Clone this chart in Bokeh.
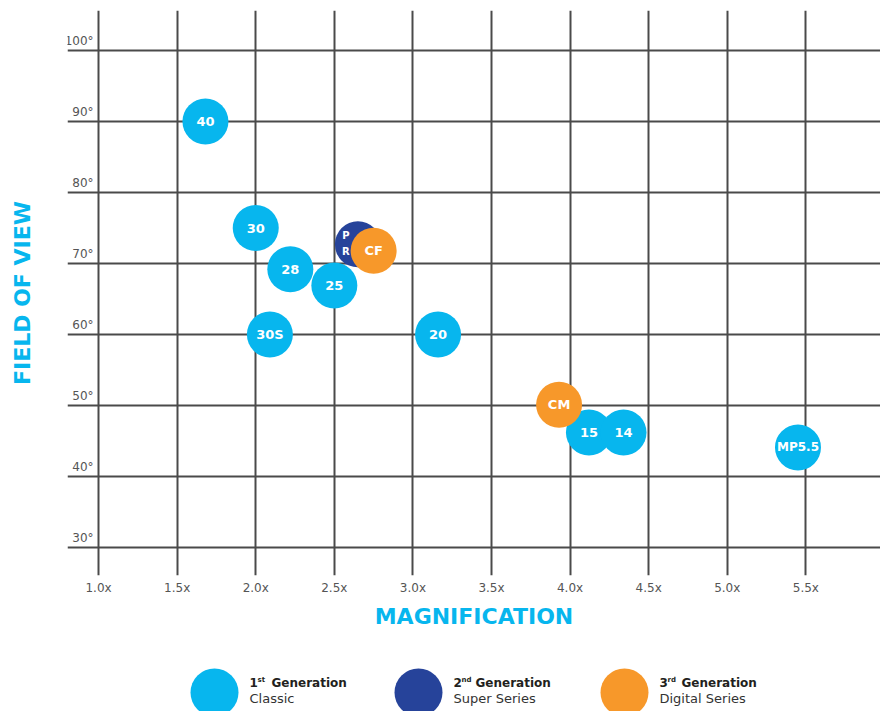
from bokeh.plotting import figure
from bokeh.models import ColumnDataSource, FixedTicker, Range1d, LabelSet
from bokeh.layouts import column
from bokeh.embed import file_html
from bokeh.resources import INLINE
from bokeh.core.properties import value

# ---------------- data ----------------
labels = ["40", "30", "28", "25", "30S", "20", "15", "14", "MP5.5", "PR", "CF", "CM"]
magnification = [1.68, 2.0, 2.22, 2.5, 2.09, 3.16, 4.12, 4.34, 5.45, 2.65, 2.75, 3.93]
field_of_view = [90, 75, 69.2, 66.9, 60, 60, 46.2, 46.2, 44.1, 72.7, 71.8, 50.1]
generation = [1, 1, 1, 1, 1, 1, 1, 1, 1, 2, 3, 3]

x_ticks = [1.0, 1.5, 2.0, 2.5, 3.0, 3.5, 4.0, 4.5, 5.0, 5.5]
x_tick_labels = ["1.0x", "1.5x", "2.0x", "2.5x", "3.0x", "3.5x", "4.0x", "4.5x", "5.0x", "5.5x"]
y_ticks = [30, 40, 50, 60, 70, 80, 90, 100]
y_tick_labels = ["30°", "40°", "50°", "60°", "70°", "80°", "90°", "100°"]

gen_numbers = ["1", "2", "3"]
gen_suffixes = ["st", "nd", "rd"]
gen_names = ["Generation", "Generation", "Generation"]
gen_series = ["Classic", "Super Series", "Digital Series"]

# ---------------- style ----------------
CYAN = "#07b6ee"
NAVY = "#26439a"
ORANGE = "#f7982a"
GEN_COLORS = {1: CYAN, 2: NAVY, 3: ORANGE}
GRID = "#4a4a4a"
TICK_TXT = "#555555"
FONT = "DejaVu Sans"

colors = [GEN_COLORS[g] for g in generation]
disp = ["P\nR" if l == "PR" else l for l in labels]
fsize = ["10px" if l == "PR" else ("12px" if len(l) > 3 else "13px") for l in labels]
xoff = [-12 if l == "PR" else 0 for l in labels]
yoff = [-1 if l == "PR" else 0 for l in labels]

src = ColumnDataSource(dict(x=magnification, y=field_of_view, label=disp,
                            color=colors, gen=generation, fs=fsize, xo=xoff, yo=yoff))

p = figure(width=880, height=643, output_backend="svg", toolbar_location=None,
           x_range=Range1d(0.8023, 5.975), y_range=Range1d(26.06, 105.64),
           min_border_left=67, min_border_right=0, min_border_top=10,
           min_border_bottom=68)
p.outline_line_color = None
p.background_fill_color = "white"

# grid
p.xgrid.ticker = FixedTicker(ticks=x_ticks)
p.ygrid.ticker = FixedTicker(ticks=y_ticks)
for g in (p.xgrid, p.ygrid):
    g.grid_line_color = GRID
    g.grid_line_width = 2
    g.grid_line_alpha = 1

# x axis
xa = p.xaxis[0]
xa.ticker = FixedTicker(ticks=x_ticks)
xa.major_label_overrides = {t: l for t, l in zip(x_ticks, x_tick_labels)}
xa.axis_line_color = None
xa.major_tick_line_color = None
xa.major_tick_out = 0
xa.major_tick_in = 0
xa.minor_tick_line_color = None
xa.major_label_standoff = 5
xa.major_label_text_font = FONT
xa.major_label_text_font_size = "12px"
xa.major_label_text_color = TICK_TXT
xa.axis_label = "MAGNIFICATION"
xa.axis_label_text_font = FONT
xa.axis_label_text_font_style = "bold"
xa.axis_label_text_font_size = "22px"
xa.axis_label_text_color = CYAN
xa.axis_label_standoff = 6

# y axis (title only; tick labels drawn inside)
ya = p.yaxis[0]
ya.ticker = FixedTicker(ticks=[])
ya.axis_line_color = None
ya.major_tick_line_color = None
ya.major_tick_out = 0
ya.minor_tick_line_color = None
ya.axis_label = "FIELD OF VIEW"
ya.axis_label_text_font = FONT
ya.axis_label_text_font_style = "bold"
ya.axis_label_text_font_size = "22px"
ya.axis_label_text_color = CYAN
ya.axis_label_standoff = 33

# y tick labels sitting above the lines, left of first vertical line
ysrc = ColumnDataSource(dict(x=[x_ticks[0]] * len(y_ticks), y=y_ticks, t=y_tick_labels))
p.add_layout(LabelSet(x="x", y="y", text="t", source=ysrc, x_offset=-5, y_offset=6,
                      text_align="right", text_baseline="alphabetic",
                      text_font=value(FONT), text_font_size="12px",
                      text_color=TICK_TXT))

# bubbles
p.scatter("x", "y", source=src, size=46, fill_color="color", line_color=None)
p.text("x", "y", text="label", source=src, x_offset="xo", y_offset="yo",
       text_align="center", text_baseline="middle", text_font=value(FONT),
       text_font_style="bold", text_font_size="fs", text_color="white",
       text_line_height=1.45)

# ---------------- legend figure (page-pixel coordinates) ----------------
leg = figure(width=880, height=68, output_backend="svg", toolbar_location=None,
             x_range=Range1d(67, 880), y_range=Range1d(0, 68),
             min_border_left=67, min_border_right=0, min_border_top=0,
             min_border_bottom=0, x_axis_location=None, y_axis_location=None)
leg.outline_line_color = None
leg.grid.visible = False

cx = [214, 418, 624]
num_x = [c + 35 for c in cx]
suf_x = [n + 8 for n in num_x]
name_x = [n + 22 for n in num_x]
leg.scatter(x=cx, y=[19] * 3, size=48, fill_color=[CYAN, NAVY, ORANGE], line_color=None)
leg.text(x=num_x, y=[29] * 3, text=gen_numbers, text_baseline="middle",
         text_font=value(FONT), text_font_style="bold", text_font_size="12px",
         text_color="#231f20")
leg.text(x=suf_x, y=[32] * 3, text=gen_suffixes, text_baseline="middle",
         text_font=value(FONT), text_font_style="bold", text_font_size="7px",
         text_color="#231f20")
leg.text(x=name_x, y=[29] * 3, text=gen_names, text_baseline="middle",
         text_font=value(FONT), text_font_style="bold", text_font_size="12px",
         text_color="#231f20")
leg.text(x=num_x, y=[13] * 3, text=gen_series, text_baseline="middle",
         text_font=value(FONT), text_font_size="13px", text_color="#333333")

layout = column(p, leg, spacing=0)
open("out.html", "w").write(file_html(layout, INLINE))
